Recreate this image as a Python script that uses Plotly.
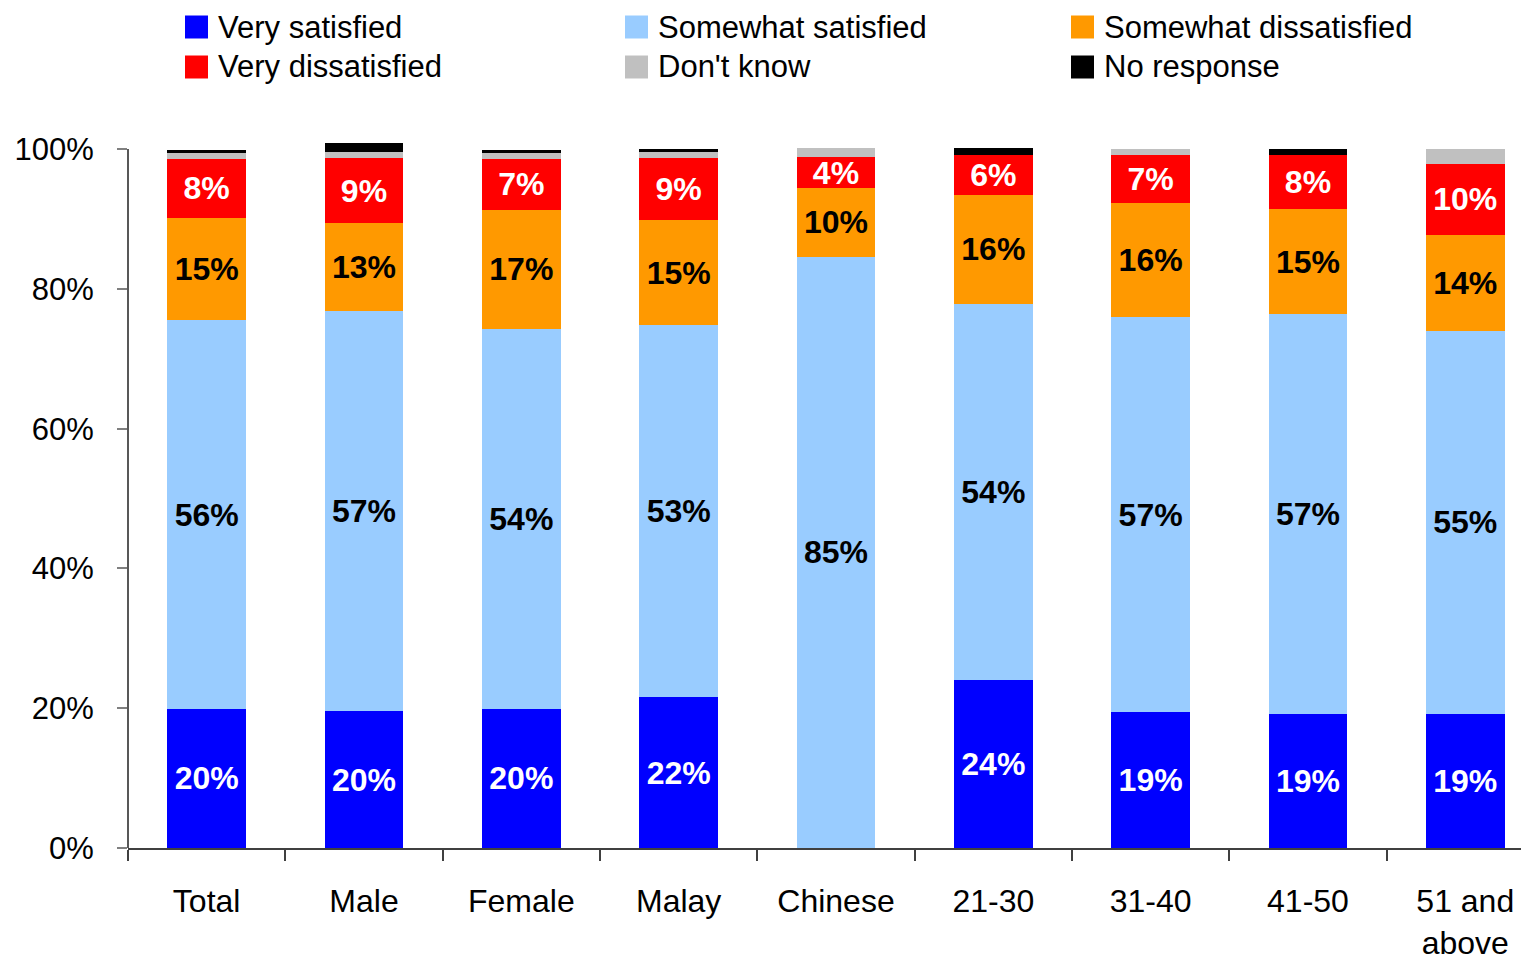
import plotly.graph_objects as go

# Satisfaction survey, share of respondents (%) by group
categories = ["Total", "Male", "Female", "Malay", "Chinese", "21-30", "31-40", "41-50", "51 and<br>above"]

series_names = ["Very satisfied", "Somewhat satisfied", "Somewhat dissatisfied",
                "Very dissatisfied", "Don't know", "No response"]

very_satisfied = [19.9, 19.6, 19.9, 21.6, 0.0, 24.0, 19.4, 19.2, 19.2]
somewhat_satisfied = [55.6, 57.2, 54.4, 53.2, 84.6, 53.9, 56.6, 57.2, 54.8]
somewhat_dissatisfied = [14.7, 12.6, 17.0, 15.0, 9.8, 15.6, 16.3, 15.0, 13.7]
very_dissatisfied = [8.4, 9.3, 7.3, 8.9, 4.4, 5.7, 6.8, 7.7, 10.2]
dont_know = [0.9, 0.9, 0.9, 0.9, 1.3, 0.0, 0.9, 0.0, 2.1]
no_response = [0.4, 1.3, 0.4, 0.4, 0.0, 0.9, 0.0, 0.9, 0.0]

y_ticks = [0, 20, 40, 60, 80, 100]

series_values = [very_satisfied, somewhat_satisfied, somewhat_dissatisfied,
                 very_dissatisfied, dont_know, no_response]
colors = ["#0000FF", "#99CCFF", "#FF9900", "#FF0000", "#C0C0C0", "#000000"]
label_colors = ["white", "black", "black", "white", None, None]

FONT = "Liberation Sans, Arial"
# page body has an 8px margin, so the figure is a bit smaller than the window
W, H = 1521, 956
L, R, T, B = 120, 0, 132, 116
Y_MAX = 101.3  # a little headroom so the Male bar (>100%) is not clipped

fig = go.Figure()

for name, vals, color, tcolor in zip(series_names, series_values, colors, label_colors):
    if tcolor:
        text = [f"{v:.0f}%" if v >= 3 else "" for v in vals]
    else:
        text = None
    fig.add_trace(go.Bar(
        x=categories,
        y=vals,
        name=name,
        marker=dict(color=color, line=dict(width=0)),
        text=text,
        textposition="inside",
        insidetextanchor="middle",
        textangle=0,
        textfont=dict(family=FONT, size=32, color=tcolor or "black", weight="bold"),
        showlegend=False,
    ))

# y axis line only up to 100%
fig.add_shape(type="line", xref="paper", yref="y", x0=0, x1=0, y0=0, y1=100,
              line=dict(color="#202020", width=1.5))

# legend drawn by hand: 3 columns x 2 rows with large swatches
plot_w = W - L - R
plot_h = H - T - B
col_px = [177, 617, 1063]
row_px = [19, 59]
for i, (name, color) in enumerate(zip(series_names, colors)):
    cx = col_px[i % 3]
    cy = row_px[i // 3]
    x0 = (cx - L) / plot_w
    x1 = (cx + 23 - L) / plot_w
    y0 = (H - B - (cy + 11.5)) / plot_h
    y1 = (H - B - (cy - 11.5)) / plot_h
    fig.add_shape(type="rect", xref="paper", yref="paper", x0=x0, x1=x1, y0=y0, y1=y1,
                  fillcolor=color, line=dict(width=0))
    fig.add_annotation(xref="paper", yref="paper", x=(cx + 31 - L) / plot_w,
                       y=(H - B - cy) / plot_h, text=name, showarrow=False,
                       xanchor="left", yanchor="middle",
                       font=dict(family=FONT, size=31, color="black"))

fig.update_layout(
    width=W, height=H,
    margin=dict(l=L, r=R, t=T, b=B),
    barmode="stack",
    bargap=0.5,
    plot_bgcolor="white",
    paper_bgcolor="white",
    font=dict(family=FONT, size=32, color="black"),
    uniformtext=dict(minsize=32, mode="show"),
    xaxis=dict(
        range=[-0.5, 8.405],
        automargin=False,
        showline=True, linecolor="#404040", linewidth=1.5,
        ticks="outside", tickson="boundaries", ticklen=11, tickcolor="#404040", tickwidth=1.5,
        showgrid=False,
        ticklabelstandoff=24,
        tickfont=dict(family=FONT, size=32),
    ),
    yaxis=dict(
        range=[0, Y_MAX],
        automargin=False,
        tickvals=y_ticks,
        ticktext=[f"{v}%" for v in y_ticks],
        showline=False,
        ticks="outside", ticklen=10, tickcolor="#808080", tickwidth=1.5,
        showgrid=False, zeroline=False,
        ticklabelstandoff=17,
        tickfont=dict(family=FONT, size=31),
    ),
)

fig.write_html("out.html")
